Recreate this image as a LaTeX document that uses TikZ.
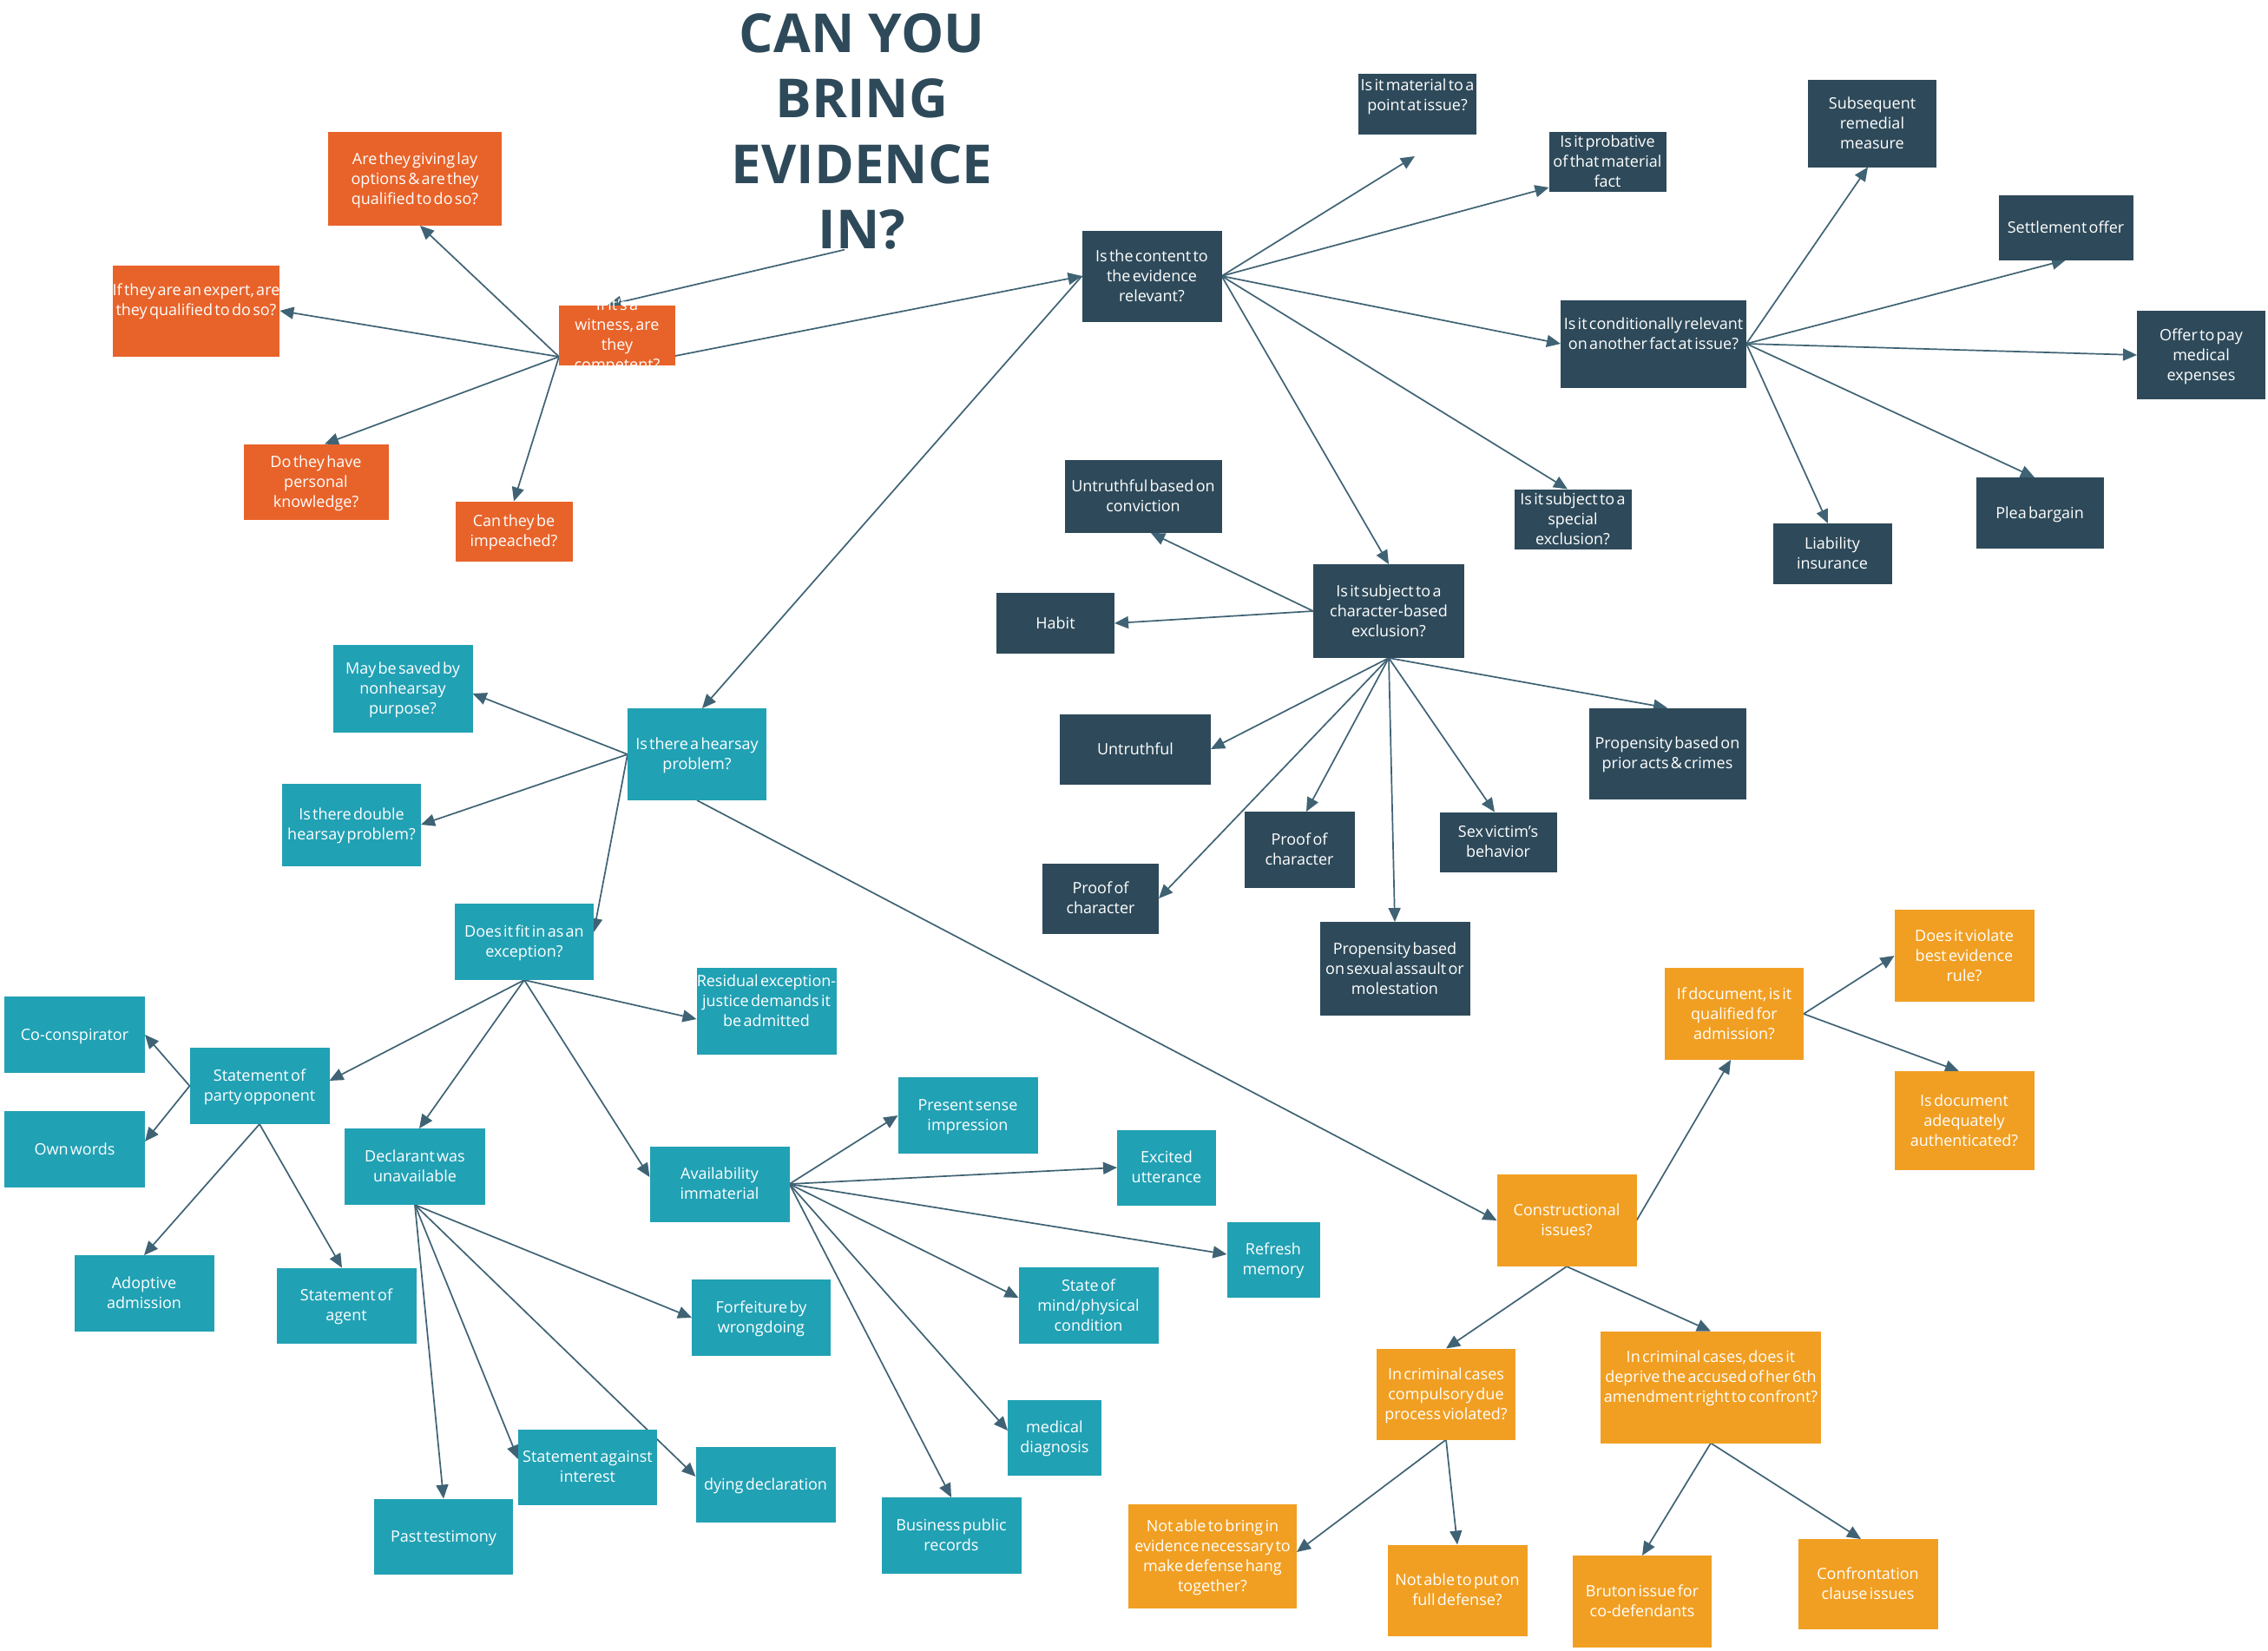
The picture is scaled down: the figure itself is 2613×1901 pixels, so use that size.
\documentclass[tikz,border=0pt]{standalone}
\usepackage{fontspec}
\setmainfont{Open Sans}[WordSpace=0.5]
\newfontfamily\ttlfont{Open Sans}
\usetikzlibrary{arrows.meta}
\definecolor{cnavy}{HTML}{2E4A5A}
\definecolor{corng}{HTML}{E8632A}
\definecolor{cteal}{HTML}{21A1B4}
\definecolor{camber}{HTML}{F19F22}
\definecolor{cline}{HTML}{3F6374}
\newcommand\bxfont{\fontsize{18}{23}\selectfont}
\newcommand\bt[2][-6pt]{\raisebox{#1}[0pt][0pt]{\begin{tabular}{@{}c@{}}#2\end{tabular}}}
\pgfdeclarelayer{bg}
\pgfdeclarelayer{edges}
\pgfsetlayers{bg,edges,main}
\tikzset{
  box/.style={rectangle, inner sep=0pt, outer sep=0pt, text=white, font=\bxfont},
  nv/.style={box, fill=cnavy},
  og/.style={box, fill=corng},
  tl/.style={box, fill=cteal},
  am/.style={box, fill=camber},
  conn/.style={draw=cline, line width=1.7pt, -{Triangle[length=16pt,width=14pt]}},
  ttl/.style={text=cnavy, align=center, inner sep=0pt, font=\ttlfont\fontsize{62}{75.5}\selectfont\bfseries},
}
\begin{document}
\begin{tikzpicture}[x=1pt,y=-1pt]
\begin{pgfonlayer}{bg}
\fill[white] (0,0) rectangle (2613,1901);
\end{pgfonlayer}
\useasboundingbox (0,0) rectangle (2613,1901);

% title
\node[ttl, anchor=north] (T) at (993,15) {CAN YOU\\BRING\\EVIDENCE\\IN?};

% witness group
\node[og, minimum width=200pt, minimum height=108pt] (A1) at (478,206) {\bt{Are they giving lay\\options \& are they\\qualified to do so?}};
\node[og, minimum width=188pt, minimum height=105pt] (A2) at (226,358) {\bt[6pt]{If they are an expert, are\\they qualified to do so?}};
\node[og, minimum width=134pt, minimum height=69pt] (W) at (711,386) {\bt{If it's a\\witness, are\\they\\competent?}};
\node[og, minimum width=167pt, minimum height=87pt] (A3) at (364,555) {\bt{Do they have\\personal\\knowledge?}};
\node[og, minimum width=135pt, minimum height=69pt] (A4) at (592,612) {\bt{Can they be\\impeached?}};

% relevance group
\node[nv, minimum width=161pt, minimum height=105pt] (R) at (1327,318) {\bt{Is the content to\\the evidence\\relevant?}};
\node[nv, minimum width=136pt, minimum height=70pt] (M1) at (1633,120) {\bt[4pt]{Is it material to a\\point at issue?}};
\node[nv, minimum width=135pt, minimum height=69pt] (M2) at (1852,186) {\bt{Is it probative\\of that material\\fact}};
\node[nv, minimum width=214pt, minimum height=101pt] (C) at (1905,396) {\bt[5.5pt]{Is it conditionally relevant\\on another fact at issue?}};
\node[nv, minimum width=135pt, minimum height=69pt] (S1) at (1812,598) {\bt{Is it subject to a\\special\\exclusion?}};
\node[nv, minimum width=181pt, minimum height=84pt] (U1) at (1317,572) {\bt{Untruthful based on\\conviction}};
\node[nv, minimum width=174pt, minimum height=108pt] (CH) at (1600,704) {\bt{Is it subject to a\\character-based\\exclusion?}};
\node[nv, minimum width=148pt, minimum height=101pt] (SR) at (2157,142) {\bt{Subsequent\\remedial\\measure}};
\node[nv, minimum width=155pt, minimum height=75pt] (SO) at (2380,262) {\bt{Settlement offer}};
\node[nv, minimum width=148pt, minimum height=102pt] (OP) at (2536,409) {\bt{Offer to pay\\medical\\expenses}};
\node[nv, minimum width=147pt, minimum height=82pt] (PB) at (2350,591) {\bt{Plea bargain}};
\node[nv, minimum width=137pt, minimum height=70pt] (LI) at (2111,638) {\bt{Liability\\insurance}};
\node[nv, minimum width=136pt, minimum height=70pt] (HA) at (1216,718) {\bt{Habit}};
\node[nv, minimum width=174pt, minimum height=81pt] (UT) at (1308,863) {\bt{Untruthful}};
\node[nv, minimum width=134pt, minimum height=81pt] (PC1) at (1268,1035) {\bt{Proof of\\character}};
\node[nv, minimum width=127pt, minimum height=88pt] (PC2) at (1497,979) {\bt{Proof of\\character}};
\node[nv, minimum width=173pt, minimum height=108pt] (PS) at (1607,1116) {\bt{Propensity based\\on sexual assault or\\molestation}};
\node[nv, minimum width=135pt, minimum height=69pt] (SV) at (1726,970) {\bt{Sex victim's\\behavior}};
\node[nv, minimum width=181pt, minimum height=105pt] (PP) at (1921,868) {\bt{Propensity based on\\prior acts \& crimes}};

% hearsay group
\node[tl, minimum width=160pt, minimum height=106pt] (HS) at (803,869) {\bt{Is there a hearsay\\problem?}};
\node[tl, minimum width=161pt, minimum height=101pt] (MS) at (464,793) {\bt{May be saved by\\nonhearsay\\purpose?}};
\node[tl, minimum width=160pt, minimum height=95pt] (DH) at (405,950) {\bt{Is there double\\hearsay problem?}};
\node[tl, minimum width=160pt, minimum height=88pt] (EX) at (604,1085) {\bt{Does it fit in as an\\exception?}};
\node[tl, minimum width=161pt, minimum height=100pt] (RE) at (883,1165) {\bt[5.5pt]{Residual exception-\\justice demands it\\be admitted}};
\node[tl, minimum width=162pt, minimum height=88pt] (CO2) at (86,1192) {\bt{Co-conspirator}};
\node[tl, minimum width=162pt, minimum height=88pt] (OW) at (86,1324) {\bt{Own words}};
\node[tl, minimum width=161pt, minimum height=88pt] (SP) at (299,1251) {\bt{Statement of\\party opponent}};
\node[tl, minimum width=161pt, minimum height=88pt] (AD) at (166,1490) {\bt{Adoptive\\admission}};
\node[tl, minimum width=161pt, minimum height=87pt] (SA) at (399,1504) {\bt{Statement of\\agent}};
\node[tl, minimum width=162pt, minimum height=88pt] (DU) at (478,1344) {\bt{Declarant was\\unavailable}};
\node[tl, minimum width=161pt, minimum height=87pt] (AI) at (829,1364) {\bt{Availability\\immaterial}};
\node[tl, minimum width=160pt, minimum height=88pt] (FW) at (877,1518) {\bt{Forfeiture by\\wrongdoing}};
\node[tl, minimum width=161pt, minimum height=88pt] (PSI) at (1115,1285) {\bt{Present sense\\impression}};
\node[tl, minimum width=114pt, minimum height=87pt] (EU) at (1344,1345) {\bt{Excited\\utterance}};
\node[tl, minimum width=107pt, minimum height=87pt] (RM) at (1467,1451) {\bt{Refresh\\memory}};
\node[tl, minimum width=161pt, minimum height=88pt] (SM) at (1254,1504) {\bt{State of\\mind/physical\\condition}};
\node[tl, minimum width=108pt, minimum height=87pt] (MD) at (1215,1656) {\bt{medical\\diagnosis}};
\node[tl, minimum width=161pt, minimum height=88pt] (BP) at (1096,1769) {\bt{Business public\\records}};
\node[tl, minimum width=161pt, minimum height=87pt] (DD) at (882,1710) {\bt{dying declaration}};
\node[tl, minimum width=160pt, minimum height=87pt] (SAI) at (677,1690) {\bt{Statement against\\interest}};
\node[tl, minimum width=160pt, minimum height=87pt] (PT) at (511,1770) {\bt{Past testimony}};

% constructional group
\node[am, minimum width=160pt, minimum height=106pt] (DQ) at (1998,1168) {\bt{If document, is it\\qualified for\\admission?}};
\node[am, minimum width=161pt, minimum height=106pt] (BE) at (2263,1101) {\bt{Does it violate\\best evidence\\rule?}};
\node[am, minimum width=161pt, minimum height=114pt] (AU) at (2263,1291) {\bt{Is document\\adequately\\authenticated?}};
\node[am, minimum width=161pt, minimum height=106pt] (CI) at (1805,1406) {\bt{Constructional\\issues?}};
\node[am, minimum width=160pt, minimum height=105pt] (CC) at (1666,1606) {\bt{In criminal cases\\compulsory due\\process violated?}};
\node[am, minimum width=254pt, minimum height=129pt] (CF) at (1971,1598) {\bt[5.5pt]{In criminal cases, does it\\deprive the accused of her 6th\\amendment right to confront?}};
\node[am, minimum width=194pt, minimum height=120pt] (NB) at (1397,1793) {\bt{Not able to bring in\\evidence necessary to\\make defense hang\\together?}};
\node[am, minimum width=161pt, minimum height=105pt] (NF) at (1679,1832) {\bt{Not able to put on\\full defense?}};
\node[am, minimum width=160pt, minimum height=106pt] (BR) at (1892,1845) {\bt{Bruton issue for\\co-defendants}};
\node[am, minimum width=161pt, minimum height=104pt] (CO) at (2152,1825) {\bt{Confrontation\\clause issues}};

\begin{pgfonlayer}{edges}
\coordinate (Wl) at ([yshift=-25pt]W.west);
\draw[conn] ([xshift=-20pt]T.south) -- ([xshift=-11pt]W.north);
\draw[conn] ([yshift=-24pt]W.east) -- (R.west);
\draw[conn] (Wl) -- ([xshift=6pt]A1.south);
\draw[conn] (Wl) -- (A2.east);
\draw[conn] (Wl) -- ([xshift=10pt]A3.north);
\draw[conn] (Wl) -- (A4.north);

\draw[conn] (R.east) -- ([xshift=-3pt,yshift=-25pt]M1.south);
\draw[conn] (R.east) -- ([yshift=-30pt]M2.west);
\draw[conn] (R.east) -- (C.west);
\draw[conn] (R.east) -- ([xshift=-6pt]S1.north);
\draw[conn] (R.east) -- (CH.north);
\draw[conn] (R.west) -- ([xshift=6pt]HS.north);

\draw[conn] (C.east) -- ([xshift=-5pt]SR.south);
\draw[conn] (C.east) -- (SO.south);
\draw[conn] (C.east) -- (OP.west);
\draw[conn] (C.east) -- ([xshift=-6pt]PB.north);
\draw[conn] (C.east) -- ([xshift=-5pt]LI.north);

\draw[conn] (CH.west) -- ([xshift=9pt]U1.south);
\draw[conn] (CH.west) -- (HA.east);
\draw[conn] (CH.south) -- (UT.east);
\draw[conn] (CH.south) -- (PC1.east);
\draw[conn] (CH.south) -- ([xshift=8pt]PC2.north);
\draw[conn] (CH.south) -- (PS.north);
\draw[conn] (CH.south) -- ([xshift=-4pt]SV.north);
\draw[conn] (CH.south) -- (PP.north);

\draw[conn] (HS.west) -- ([yshift=-6pt]MS.east);
\draw[conn] (HS.west) -- (DH.east);
\draw[conn] (HS.west) -- ([yshift=11pt]EX.east);
\draw[conn] (HS.south) -- (CI.west);

\draw[conn] (EX.south) -- ([yshift=6pt]SP.east);
\draw[conn] (EX.south) -- ([xshift=5pt]DU.north);
\draw[conn] (EX.south) -- ([yshift=8pt]AI.west);
\draw[conn] (EX.south) -- ([yshift=-9pt]RE.west);

\draw[conn] (SP.west) -- (CO2.east);
\draw[conn] (SP.west) -- ([yshift=9pt]OW.east);
\draw[conn] (SP.south) -- (AD.north);
\draw[conn] (SP.south) -- ([xshift=-5pt]SA.north);

\draw[conn] (DU.south) -- (FW.west);
\draw[conn] (DU.south) -- ([yshift=9pt]SAI.west);
\draw[conn] (DU.south) -- ([yshift=9pt]DD.west);
\draw[conn] (DU.south) -- (PT.north);

\draw[conn] (AI.east) -- (PSI.west);
\draw[conn] (AI.east) -- (EU.west);
\draw[conn] (AI.east) -- ([yshift=6pt]RM.west);
\draw[conn] (AI.east) -- ([yshift=9pt]SM.west);
\draw[conn] (AI.east) -- ([yshift=8pt]MD.west);
\draw[conn] (AI.east) -- (BP.north);

\draw[conn] (CI.east) -- ([xshift=-4pt]DQ.south);
\draw[conn] (CI.south) -- (CC.north);
\draw[conn] (CI.south) -- (CF.north);
\draw[conn] (DQ.east) -- (BE.west);
\draw[conn] (DQ.east) -- ([xshift=-6pt]AU.north);
\draw[conn] (CC.south) -- ([yshift=5pt]NB.east);
\draw[conn] (CC.south) -- (NF.north);
\draw[conn] (CF.south) -- (BR.north);
\draw[conn] (CF.south) -- ([xshift=-8pt]CO.north);
\end{pgfonlayer}
\end{tikzpicture}
\end{document}
